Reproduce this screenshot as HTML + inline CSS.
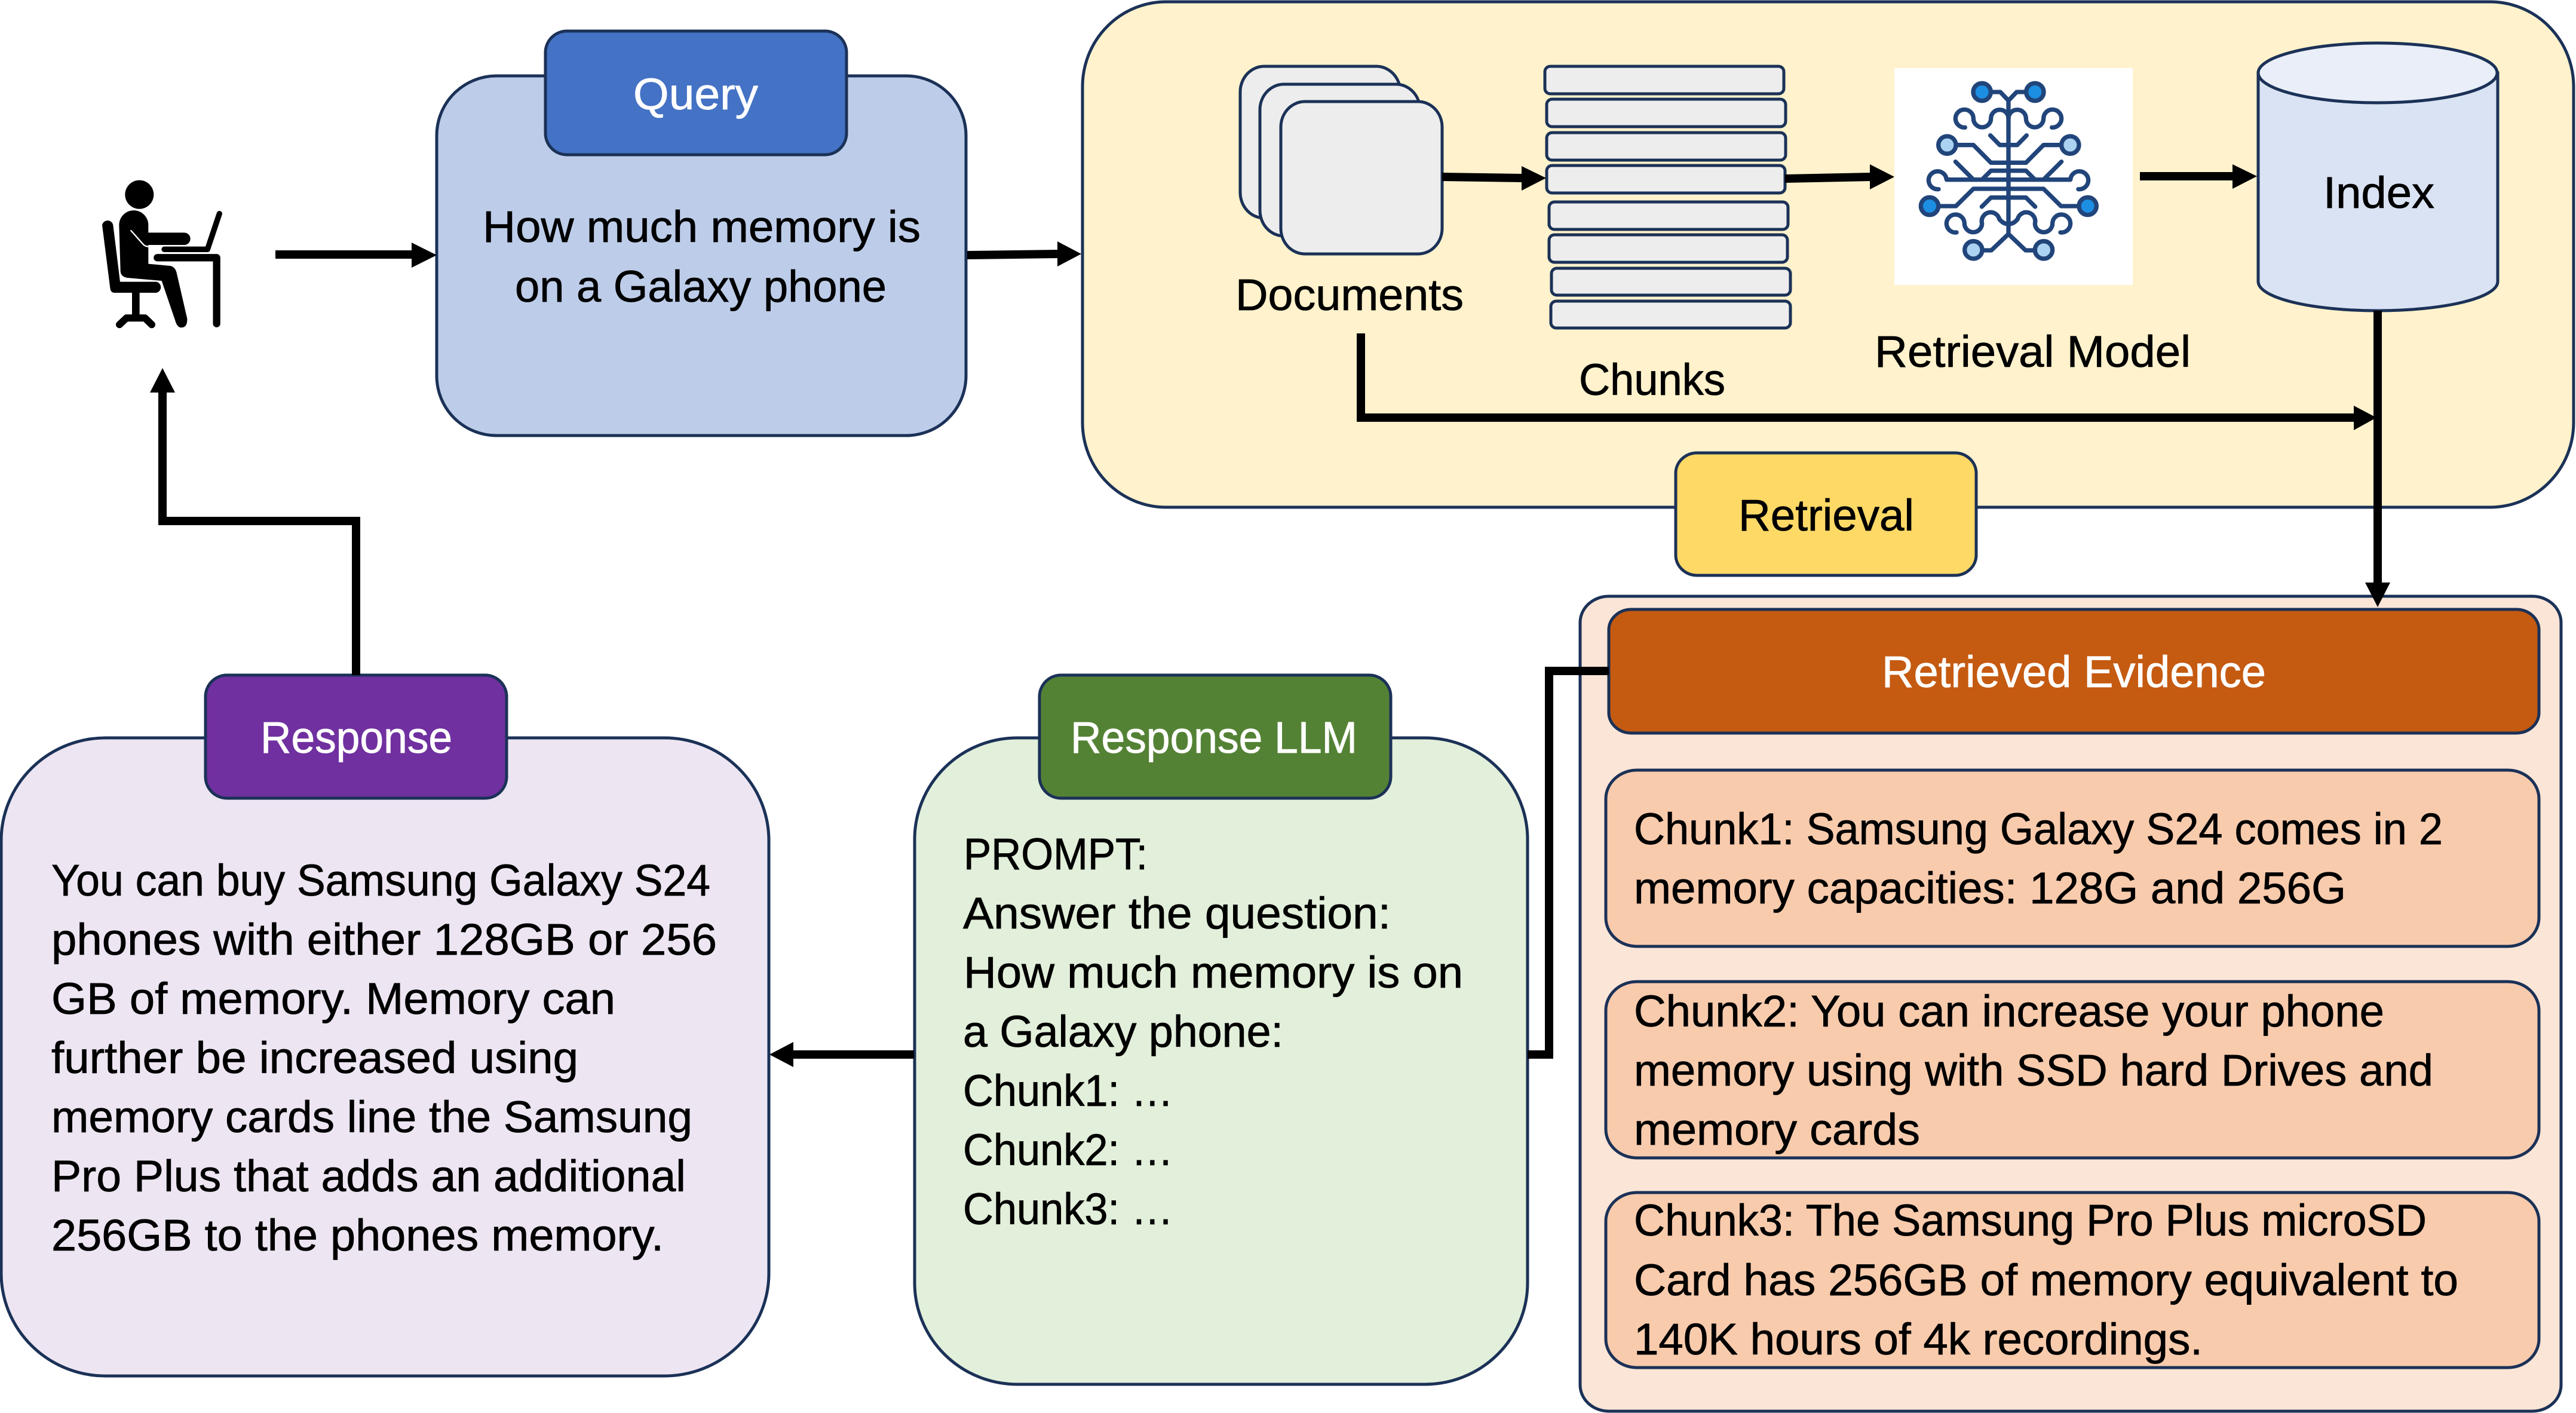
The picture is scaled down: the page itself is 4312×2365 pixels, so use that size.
<!DOCTYPE html>
<html><head><meta charset="utf-8"><style>
html,body{margin:0;padding:0;background:#fff}
svg{display:block}
text{font-family:"Liberation Sans",sans-serif;font-size:74px;fill:#000;stroke:#000;stroke-width:.8}
.w{fill:#fff;stroke:#fff}
.b{stroke:#1B3157;stroke-width:5}
.ln{fill:none;stroke:#000;stroke-width:14;stroke-linejoin:miter}
.br{fill:none;stroke:#21457A;stroke-width:22;stroke-linecap:round;stroke-linejoin:round}
</style></head><body>
<svg xmlns="http://www.w3.org/2000/svg" width="4312" height="2365" viewBox="0 0 4312 2365">
<rect width="4312" height="2365" fill="#fff"/>

<!-- Query -->
<rect class="b" x="731" y="127" width="886" height="602" rx="100" ry="100" fill="#BDCDE9"/>
<rect class="b" x="913" y="52" width="504" height="207" rx="36" ry="36" fill="#4472C4"/>
<text class="w" x="1060" y="183" textLength="209" lengthAdjust="spacingAndGlyphs">Query</text>
<text x="808" y="405" textLength="733" lengthAdjust="spacingAndGlyphs">How much memory is</text>
<text x="862" y="505" textLength="622" lengthAdjust="spacingAndGlyphs">on a Galaxy phone</text>

<!-- Retrieval panel -->
<rect class="b" x="1812" y="3" width="2496" height="846" rx="140" ry="142" fill="#FFF2CC"/>

<!-- Documents -->
<rect class="b" x="2076" y="111" width="268" height="254" rx="40" ry="43" fill="#EDEDED"/>
<rect class="b" x="2109" y="141" width="268" height="254" rx="40" ry="43" fill="#EDEDED"/>
<rect class="b" x="2144" y="170" width="270" height="255" rx="40" ry="43" fill="#EDEDED"/>
<text x="2068" y="519" textLength="382" lengthAdjust="spacingAndGlyphs">Documents</text>

<!-- Chunks -->
<g fill="#EDEDED" class="b">
<rect class="b" x="2586" y="111" width="400" height="46" rx="9"/>
<rect class="b" x="2589" y="166" width="400" height="46" rx="9"/>
<rect class="b" x="2589" y="222" width="400" height="46" rx="9"/>
<rect class="b" x="2589" y="277" width="399" height="46" rx="9"/>
<rect class="b" x="2593" y="338" width="400" height="46" rx="9"/>
<rect class="b" x="2593" y="393" width="399" height="46" rx="9"/>
<rect class="b" x="2597" y="449" width="400" height="45" rx="9"/>
<rect class="b" x="2596" y="504" width="401" height="45" rx="9"/>
</g>
<text x="2643" y="661" textLength="245" lengthAdjust="spacingAndGlyphs">Chunks</text>

<!-- Retrieval model image -->
<rect x="3171" y="114" width="399" height="363" fill="#fff"/>
<g transform="translate(3130,90) scale(.33333)">
  <g id="hb">
    <path class="br" d="M610 192H655L696 235"/>
    <path class="br" d="M478 370A45 45 0 1 1 520 325A43 43 0 0 0 608 325A44 44 0 0 1 696 325"/>
    <path class="br" d="M605 410L652 458H696"/>
    <path class="br" d="M435 458H520L608 547H696"/>
    <path class="br" d="M345 680A45 45 0 1 1 385 632H696"/>
    <path class="br" d="M430 542L518 630"/>
    <path class="br" d="M565 630L608 587H696"/>
    <path class="br" d="M345 765H432L520 678H696"/>
    <path class="br" d="M562 768L608 722H696"/>
    <path class="br" d="M435 897A45 45 0 1 1 475 852A43 43 0 0 0 563 852A44 44 0 0 1 650 830Q670 855 696 855"/>
    <path class="br" d="M696 905L610 987H565"/>
  </g>
  <use href="#hb" transform="translate(1392,0) scale(-1,1)"/>
  <path class="br" d="M696 235V905"/>
  <g stroke="#21457A" stroke-width="22">
    <circle cx="563" cy="192" r="44" fill="#1C8FE3"/>
    <circle cx="829" cy="192" r="44" fill="#1C8FE3"/>
    <circle cx="388" cy="458" r="44" fill="#AAD3F1"/>
    <circle cx="1006" cy="458" r="44" fill="#AAD3F1"/>
    <circle cx="300" cy="765" r="44" fill="#1C8FE3"/>
    <circle cx="1094" cy="765" r="44" fill="#1C8FE3"/>
    <circle cx="520" cy="985" r="44" fill="#AAD3F1"/>
    <circle cx="873" cy="985" r="44" fill="#AAD3F1"/>
  </g>
</g>
<text x="3138" y="614" textLength="529" lengthAdjust="spacingAndGlyphs">Retrieval Model</text>

<!-- Index cylinder -->
<path class="b" d="M3780 122V471C3780 499 3870 520 3980 520S4181 499 4181 471V122Z" fill="#DAE3F3"/>
<ellipse class="b" cx="3980" cy="122" rx="200" ry="50" fill="#E9EEF8"/>
<text x="3889" y="348" textLength="186" lengthAdjust="spacingAndGlyphs">Index</text>

<!-- Evidence panel -->
<rect class="b" x="2645" y="998" width="1642" height="1364" rx="48" ry="44" fill="#FBE5D6"/>
<rect class="b" x="2693" y="1020" width="1557" height="207" rx="38" ry="34" fill="#C55A11"/>
<text class="w" x="3150" y="1150" textLength="643" lengthAdjust="spacingAndGlyphs">Retrieved Evidence</text>
<rect class="b" x="2688" y="1289" width="1562" height="295" rx="52" ry="48" fill="#F8CBAD"/>
<rect class="b" x="2688" y="1643" width="1562" height="295" rx="52" ry="48" fill="#F8CBAD"/>
<rect class="b" x="2688" y="1996" width="1562" height="293" rx="52" ry="48" fill="#F8CBAD"/>
<text x="2735" y="1413" textLength="1354" lengthAdjust="spacingAndGlyphs">Chunk1: Samsung Galaxy S24 comes in 2</text>
<text x="2735" y="1512" textLength="1192" lengthAdjust="spacingAndGlyphs">memory capacities: 128G and 256G</text>
<text x="2735" y="1718" textLength="1256" lengthAdjust="spacingAndGlyphs">Chunk2: You can increase your phone</text>
<text x="2735" y="1817" textLength="1338" lengthAdjust="spacingAndGlyphs">memory using with SSD hard Drives and</text>
<text x="2735" y="1916" textLength="479" lengthAdjust="spacingAndGlyphs">memory cards</text>
<text x="2735" y="2068" textLength="1327" lengthAdjust="spacingAndGlyphs">Chunk3: The Samsung Pro Plus microSD</text>
<text x="2735" y="2168" textLength="1380" lengthAdjust="spacingAndGlyphs">Card has 256GB of memory equivalent to</text>
<text x="2735" y="2267" textLength="952" lengthAdjust="spacingAndGlyphs">140K hours of 4k recordings.</text>

<!-- Response -->
<rect class="b" x="2" y="1235" width="1285" height="1068" rx="175" ry="172" fill="#EDE5F2"/>
<rect class="b" x="344" y="1130" width="504" height="206" rx="36" ry="36" fill="#7030A0"/>
<text class="w" x="436" y="1260" textLength="321" lengthAdjust="spacingAndGlyphs">Response</text>
<text x="86" y="1499" textLength="1103" lengthAdjust="spacingAndGlyphs">You can buy Samsung Galaxy S24</text>
<text x="86" y="1598" textLength="1114" lengthAdjust="spacingAndGlyphs">phones with either 128GB or 256</text>
<text x="86" y="1697" textLength="944" lengthAdjust="spacingAndGlyphs">GB of memory. Memory can</text>
<text x="86" y="1796" textLength="882" lengthAdjust="spacingAndGlyphs">further be increased using</text>
<text x="86" y="1895" textLength="1073" lengthAdjust="spacingAndGlyphs">memory cards line the Samsung</text>
<text x="86" y="1994" textLength="1062" lengthAdjust="spacingAndGlyphs">Pro Plus that adds an additional</text>
<text x="86" y="2093" textLength="1025" lengthAdjust="spacingAndGlyphs">256GB to the phones memory.</text>

<!-- Response LLM -->
<rect class="b" x="1531" y="1235" width="1026" height="1082" rx="172" ry="170" fill="#E2EFDA"/>
<rect class="b" x="1740" y="1130" width="588" height="206" rx="36" ry="36" fill="#548235"/>
<text class="w" x="1792" y="1260" textLength="480" lengthAdjust="spacingAndGlyphs">Response LLM</text>
<text x="1613" y="1455" textLength="308" lengthAdjust="spacingAndGlyphs">PROMPT:</text>
<text x="1612" y="1554" textLength="716" lengthAdjust="spacingAndGlyphs">Answer the question:</text>
<text x="1613" y="1653" textLength="836" lengthAdjust="spacingAndGlyphs">How much memory is on</text>
<text x="1612" y="1752" textLength="536" lengthAdjust="spacingAndGlyphs">a Galaxy phone:</text>
<text x="1612" y="1851" textLength="352" lengthAdjust="spacingAndGlyphs">Chunk1: …</text>
<text x="1612" y="1950" textLength="352" lengthAdjust="spacingAndGlyphs">Chunk2: …</text>
<text x="1612" y="2049" textLength="352" lengthAdjust="spacingAndGlyphs">Chunk3: …</text>

<!-- Retrieval tag -->
<rect class="b" x="2805" y="758" width="503" height="205" rx="36" ry="34" fill="#FFD966"/>
<text x="2910" y="888" textLength="294" lengthAdjust="spacingAndGlyphs">Retrieval</text>

<!-- Connectors -->
<path class="ln" d="M461 426H692"/><polygon points="731,427 689,406 689,448" fill="#000"/>
<path class="ln" d="M1619 427L1772 425"/><polygon points="1810,425 1770,404 1770,446" fill="#000"/>
<path class="ln" d="M2414 296L2550 298"/><polygon points="2588,298 2547,278 2547,319" fill="#000"/>
<path class="ln" d="M2988 299L3132 296"/><polygon points="3171,296 3130,275 3130,317" fill="#000"/>
<path class="ln" d="M3582 295H3740"/><polygon points="3778,295 3737,275 3737,316" fill="#000"/>
<path class="ln" d="M2278 558V699H3945"/><polygon points="3978,699 3940,679 3940,720" fill="#000"/>
<path class="ln" d="M3980 520V980"/><polygon points="3980,1016 3959,975 4001,975" fill="#000"/>
<path class="ln" d="M2693 1123H2593V1765H2557"/>
<path class="ln" d="M1530 1765H1325"/><polygon points="1288,1765 1328,1744 1328,1786" fill="#000"/>
<path class="ln" d="M596 1130V872H272V650"/><polygon points="272,616 251,657 293,657" fill="#000"/>

<!-- Person icon -->
<g transform="translate(100,240) scale(.3333)">
  <circle cx="400" cy="257" r="72" fill="#000"/>
  <path fill="#000" d="M298 410A73 73 0 0 1 445 410V448H625A31 31 0 0 1 625 510H445V605L555 615Q580 620 587 650L640 880Q642 925 610 925Q590 925 580 890L512 690L340 675Q305 670 305 640Z"/>
  <path d="M358 438L420 508Q430 518 447 518" fill="none" stroke="#fff" stroke-width="7" stroke-linecap="round"/>
  <path fill="#000" d="M213 410A28 28 0 0 1 268 410L303 695H485A28 28 0 0 1 485 750H275Q255 750 253 725Z"/>
  <rect x="363" y="750" width="38" height="112" fill="#000"/>
  <path d="M300 910L335 877H428L462 910" fill="none" stroke="#000" stroke-width="36" stroke-linecap="round" stroke-linejoin="round"/>
  <path d="M525 532H742L802 353" fill="none" stroke="#000" stroke-width="28" stroke-linecap="round" stroke-linejoin="round"/>
  <path d="M490 574H788V905" fill="none" stroke="#000" stroke-width="37" stroke-linecap="round" stroke-linejoin="round"/>
</g>
</svg>
</body></html>
